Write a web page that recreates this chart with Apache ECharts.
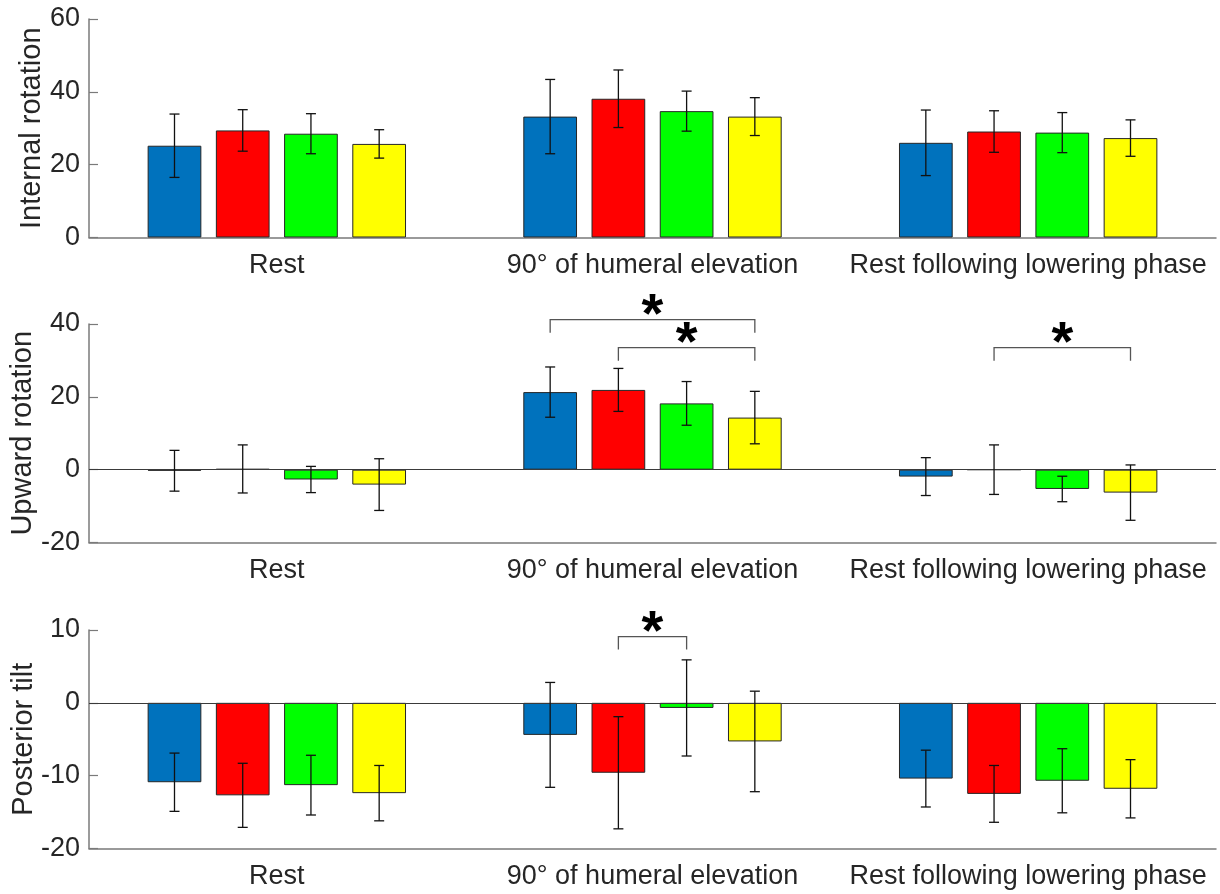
<!DOCTYPE html>
<html>
<head>
<meta charset="utf-8">
<script src="https://cdn.jsdelivr.net/npm/echarts@6/dist/echarts.min.js"></script>
<style>
  html, body { margin: 0; padding: 0; background: #fff; }
  #chart { width: 1220px; height: 894px; }
</style>
</head>
<body>
<div id="chart"></div>
<script>
// categories
var groups = ['Rest', '90° of humeral elevation', 'Rest following lowering phase']

// one row per bar colour (blue, red, green, yellow), one value per group
var irMean = [[25.2, 33.2, 26.0], [29.4, 38.1, 29.1], [28.5, 34.7, 28.8], [25.7, 33.2, 27.3]]
var irSd = [[8.7, 10.2, 9.0], [5.7, 7.9, 5.7], [5.5, 5.5, 5.5], [3.9, 5.2, 5.0]]

var urMean = [[-0.3, 21.3, -1.9], [0.2, 21.9, 0.0], [-2.7, 18.2, -5.3], [-4.1, 14.3, -6.3]]
var urSd = [[5.6, 6.9, 5.2], [6.6, 5.9, 6.8], [3.6, 6.0, 3.5], [7.1, 7.2, 7.6]]

var ptMean = [[-10.9, -4.4, -10.4], [-12.7, -9.6, -12.5], [-11.3, -0.7, -10.7], [-12.4, -5.3, -11.8]]
var ptSd = [[4.0, 7.2, 3.9], [4.4, 7.7, 3.9], [4.1, 6.6, 4.4], [3.8, 6.9, 4.0]]

// significance brackets: [group, from bar, to bar, bracket level]
var irBrackets = []
var urBrackets = [[1, 0, 3, 41.2], [1, 1, 3, 33.5], [2, 1, 3, 33.5]]
var ptBrackets = [[1, 1, 2, 9.1]]

// y axis ticks: min, max, step
var irTicks = [0, 60, 20]
var urTicks = [-20, 40, 20]
var ptTicks = [-20, 10, 10]

var colors = ['#0072BD', '#FF0000', '#00FF00', '#FFFF00']
var font = "'Liberation Sans', Arial, sans-serif"
var axisGray = '#7a7a7a'
var textColor = '#262626'
var BAR_W = 0.143
var BAR_GAP = 0.27
var PITCH = BAR_W * (1 + BAR_GAP)

var panels = [
  { name: 'Internal rotation', mean: irMean, sd: irSd, brackets: irBrackets, ticks: irTicks, top: 19, gap: 43, zeroLine: false },
  { name: 'Upward rotation', mean: urMean, sd: urSd, brackets: urBrackets, ticks: urTicks, top: 324, gap: 52, zeroLine: true },
  { name: 'Posterior tilt', mean: ptMean, sd: ptSd, brackets: ptBrackets, ticks: ptTicks, top: 630, gap: 51, zeroLine: true }
]

var grid = []
var xAxis = []
var yAxis = []
var series = []

panels.forEach(function (p, i) {
  grid.push({ left: 89, width: 1127, top: p.top, height: 218.5 })

  xAxis.push({
    type: 'category',
    gridIndex: i,
    data: groups,
    axisLine: { onZero: false, lineStyle: { color: axisGray, width: 1.5 } },
    axisTick: { inside: true, alignWithLabel: true, length: 10, lineStyle: { color: axisGray, width: 1.2 } },
    axisLabel: { interval: 0, color: textColor, fontSize: 27, fontFamily: font, margin: 15 },
    splitLine: { show: false }
  })

  yAxis.push({
    type: 'value',
    gridIndex: i,
    min: p.ticks[0],
    max: p.ticks[1],
    interval: p.ticks[2],
    name: p.name,
    nameLocation: 'middle',
    nameGap: p.gap,
    nameMoveOverlap: false,
    nameTextStyle: { color: textColor, fontSize: 29, fontFamily: font },
    axisLine: { show: true, lineStyle: { color: axisGray, width: 1.5 } },
    axisTick: { show: true, inside: true, length: 9, lineStyle: { color: axisGray, width: 1.2 } },
    axisLabel: { color: textColor, fontSize: 27, fontFamily: font, margin: 9 },
    splitLine: { show: false }
  })

  p.mean.forEach(function (vals, s) {
    var bar = {
      type: 'bar',
      xAxisIndex: i,
      yAxisIndex: i,
      data: vals,
      barWidth: (BAR_W * 100) + '%',
      barGap: (BAR_GAP * 100) + '%',
      itemStyle: { color: colors[s], borderColor: '#262626', borderWidth: 1 },
      silent: true
    }
    if (s === 0 && p.zeroLine) {
      bar.markLine = {
        silent: true,
        symbol: 'none',
        label: { show: false },
        lineStyle: { color: '#3a3a3a', width: 1.2, type: 'solid' },
        data: [{ yAxis: 0 }]
      }
    }
    series.push(bar)
  })

  var errData = []
  p.mean.forEach(function (vals, s) {
    vals.forEach(function (v, g) {
      errData.push([g, s, v, p.sd[s][g]])
    })
  })

  series.push({
    type: 'custom',
    xAxisIndex: i,
    yAxisIndex: i,
    data: errData,
    z: 5,
    silent: true,
    renderItem: function (params, api) {
      var band = api.size([1, 0])[0]
      var x = api.coord([api.value(0), 0])[0] + (api.value(1) - 1.5) * PITCH * band
      var m = api.value(2)
      var sd = api.value(3)
      var yTop = api.coord([api.value(0), m + sd])[1]
      var yBot = api.coord([api.value(0), m - sd])[1]
      var cap = 5
      var st = { stroke: '#111', lineWidth: 1.3 }
      return {
        type: 'group',
        children: [
          { type: 'line', shape: { x1: x, y1: yTop, x2: x, y2: yBot }, style: st },
          { type: 'line', shape: { x1: x - cap, y1: yTop, x2: x + cap, y2: yTop }, style: st },
          { type: 'line', shape: { x1: x - cap, y1: yBot, x2: x + cap, y2: yBot }, style: st }
        ]
      }
    }
  })

  if (p.brackets.length) {
    series.push({
      type: 'custom',
      xAxisIndex: i,
      yAxisIndex: i,
      data: p.brackets,
      z: 6,
      clip: false,
      silent: true,
      renderItem: function (params, api) {
        var band = api.size([1, 0])[0]
        var cx = api.coord([api.value(0), 0])[0]
        var x1 = cx + (api.value(1) - 1.5) * PITCH * band
        var x2 = cx + (api.value(2) - 1.5) * PITCH * band
        var y = api.coord([api.value(0), api.value(3)])[1]
        var leg = 13
        var st = { stroke: '#555', lineWidth: 1.3, fill: null }
        return {
          type: 'group',
          children: [
            { type: 'polyline', shape: { points: [[x1, y + leg], [x1, y], [x2, y], [x2, y + leg]] }, style: st },
            {
              type: 'text',
              style: {
                text: '*',
                x: (x1 + x2) / 2,
                y: y - 3,
                align: 'center',
                verticalAlign: 'middle',
                fill: '#000',
                font: 'bold 56px ' + font
              }
            }
          ]
        }
      }
    })
  }
})

var option = {
  backgroundColor: '#fff',
  animation: false,
  grid: grid,
  xAxis: xAxis,
  yAxis: yAxis,
  series: series
}

var myChart = echarts.init(document.getElementById('chart'))
myChart.setOption(option)
</script>
</body>
</html>
